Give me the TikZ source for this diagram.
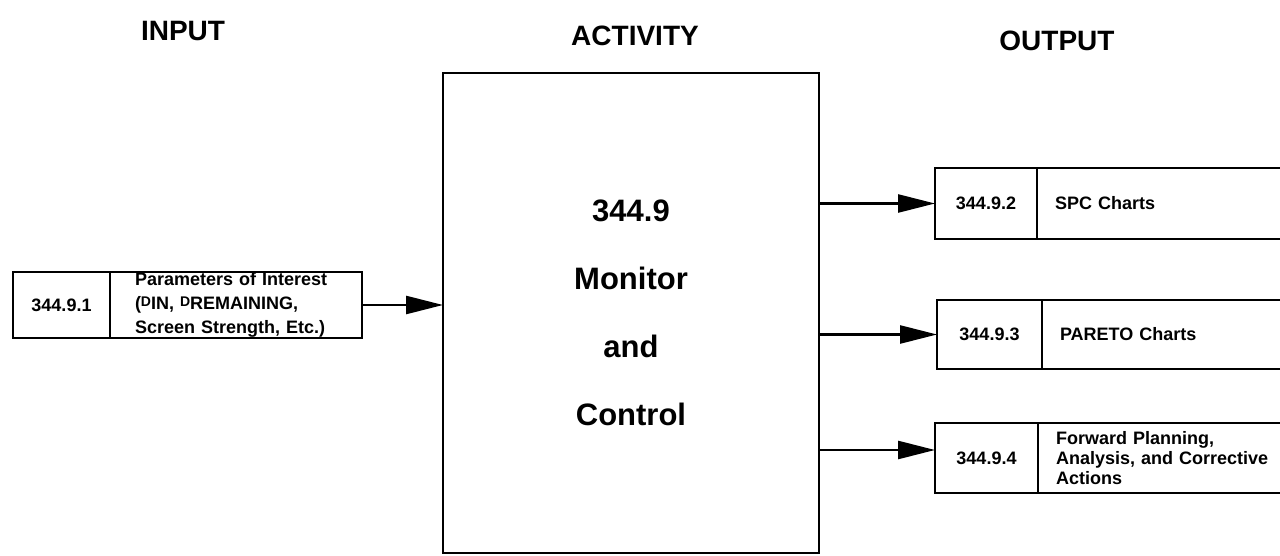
\documentclass[tikz,border=0pt]{standalone}
\usepackage{fontspec}
\setmainfont{Liberation Sans}
\usetikzlibrary{positioning,arrows.meta}

\begin{document}
\begin{tikzpicture}[x=1pt, y=-1pt, every node/.style={font=\bfseries}]
  \tikzset{
      hdr/.style={font=\fontsize{28}{30}\selectfont\bfseries},
      idbox/.style={draw, line width=2.6pt, outer sep=0pt, inner sep=0pt, font=\fontsize{18}{20}\selectfont\bfseries},
      descbox/.style={draw, line width=2.6pt, outer sep=0pt, inner ysep=0pt, inner xsep=#1, align=left},
      mainbox/.style={draw, line width=2.6pt, outer sep=0pt, align=center, font=\fontsize{31}{68}\selectfont\bfseries},
      flow/.style={line width=2.6pt, -{Triangle[length=37pt, width=18pt]}}
  }
  \useasboundingbox (0,0) rectangle (1280,556);

  % column titles
  \node[hdr] (hin)  at (183,31)  {INPUT};
  \node[hdr] (hact) at (635,36)  {ACTIVITY};
  \node[hdr] (hout) at (1057,41) {OUTPUT};

  % activity
  \node[mainbox, minimum width=376pt, minimum height=480pt] (act) at (631,313) {344.9\\Monitor\\and\\Control};

  % input
  \node[idbox, minimum width=97pt, minimum height=66pt] (inid) at (61.5,305) {344.9.1};
  \node[descbox=25pt, minimum width=252pt, minimum height=66pt, text width=202pt,
        font=\fontsize{18}{24}\selectfont\bfseries, right=0pt of inid] (indesc)
       {Parameters of Interest\\(\raisebox{3pt}{\fontsize{14}{14}\selectfont D}IN, \raisebox{3pt}{\fontsize{14}{14}\selectfont D}REMAINING,\\Screen Strength, Etc.)};

  % outputs
  \node[idbox, minimum width=102pt, minimum height=71pt] (o1id) at (986,203.5) {344.9.2};
  \node[descbox=18pt, minimum width=260pt, minimum height=71pt, text width=224pt,
        font=\fontsize{18}{20}\selectfont\bfseries, right=0pt of o1id] (o1desc) {SPC Charts};
  \node[idbox, minimum width=105pt, minimum height=69pt] (o2id) at (989.5,334.5) {344.9.3};
  \node[descbox=18pt, minimum width=260pt, minimum height=69pt, text width=224pt,
        font=\fontsize{18}{20}\selectfont\bfseries, right=0pt of o2id] (o2desc) {PARETO Charts};
  \node[idbox, minimum width=103pt, minimum height=70pt] (o3id) at (986.5,458) {344.9.4};
  \node[descbox=18pt, minimum width=260pt, minimum height=70pt, text width=224pt,
        font=\fontsize{18}{20}\selectfont\bfseries, right=0pt of o3id] (o3desc) {Forward Planning,\\Analysis, and Corrective\\Actions};

  \coordinate (o3in) at ([yshift=8pt]o3id.west);

  \draw[flow] (indesc.east) -- (indesc.east -| act.west);
  \draw[flow] (act.east |- o1id.west) -- (o1id.west);
  \draw[flow] (act.east |- o2id.west) -- (o2id.west);
  \draw[flow] (act.east |- o3in) -- (o3in);
\end{tikzpicture}
\end{document}
